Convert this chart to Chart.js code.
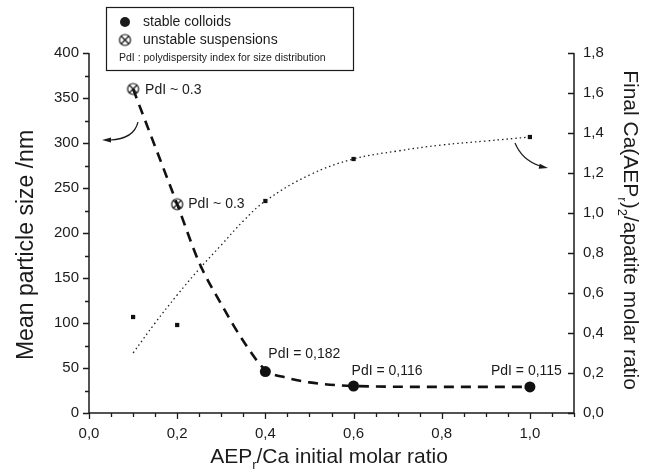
<!DOCTYPE html>
<html><head><meta charset="utf-8">
<script src="https://cdn.jsdelivr.net/npm/chart.js@4/dist/chart.umd.min.js"></script>
<style>html,body{margin:0;padding:0;background:#fff}</style>
</head><body>
<canvas id="c" width="647" height="473" style="width:647px;height:473px;display:block"></canvas>
<script>
// ---- data ----
const stableRatio = [0.4, 0.6, 1.0];
const stableSize = [46, 30, 29];
const stablePdI = ['PdI = 0,182', 'PdI = 0,116', 'PdI = 0,115'];
const unstableRatio = [0.1, 0.2];
const unstableSize = [360, 232];
const unstablePdI = ['PdI ~ 0.3', 'PdI ~ 0.3'];
const complexRatio = [0.1, 0.2, 0.4, 0.6, 1.0];
const complexValue = [0.48, 0.44, 1.06, 1.27, 1.38];
const sizeFitRatio = [0.1, 0.15, 0.2, 0.25, 0.3, 0.35, 0.4, 0.45, 0.5, 0.6, 0.8, 1.0];
const sizeFitValue = [360, 296, 232, 167, 121, 80, 48, 39, 34, 30, 29, 29];
const complexFitRatio = [0.1, 0.15, 0.2, 0.25, 0.3, 0.35, 0.4, 0.5, 0.6, 0.7, 0.8, 0.9, 1.0];
const complexFitValue = [0.30, 0.45, 0.59, 0.72, 0.84, 0.96, 1.06, 1.19, 1.27, 1.31, 1.34, 1.36, 1.38];
const legendItems = ['stable colloids', 'unstable suspensions'];
const legendNote = 'PdI : polydispersity index for size distribution';

const FONT = "'Liberation Sans', Arial, Helvetica, sans-serif";
const INK = '#1b1b1b';

const pts = (xs, ys) => xs.map((v, i) => ({x: v, y: ys[i]}));

// crossed circle marker
function crossedCircle(r) {
  const s = 2 * r + 4, c = document.createElement('canvas');
  c.width = s; c.height = s;
  const g = c.getContext('2d'), m = s / 2;
  g.strokeStyle = '#111'; g.lineWidth = 1.2;
  g.beginPath(); g.arc(m, m, r, 0, Math.PI * 2); g.stroke();
  const d = r * 0.72;
  g.beginPath(); g.moveTo(m - d, m - d); g.lineTo(m + d, m + d);
  g.moveTo(m + d, m - d); g.lineTo(m - d, m + d); g.stroke();
  return c;
}
const xMark = crossedCircle(5.5);

function richWidth(ctx, parts, size, subSize) {
  let w = 0;
  for (const p of parts) { ctx.font = (p.sub ? subSize : size) + 'px ' + FONT; w += ctx.measureText(p.t).width; }
  return w;
}
function drawRich(ctx, parts, cx, cy, size, subSize) {
  const w = richWidth(ctx, parts, size, subSize);
  let x = cx - w / 2;
  ctx.textBaseline = 'alphabetic'; ctx.textAlign = 'left';
  for (const p of parts) {
    ctx.font = (p.sub ? subSize : size) + 'px ' + FONT;
    ctx.fillText(p.t, x, cy + (p.sub ? size * 0.3 : 0));
    x += ctx.measureText(p.t).width;
  }
}
function arrowHead(ctx, x, y, ang, len, wid) {
  ctx.beginPath();
  ctx.moveTo(x, y);
  ctx.lineTo(x - len * Math.cos(ang) + wid * Math.sin(ang), y - len * Math.sin(ang) - wid * Math.cos(ang));
  ctx.lineTo(x - len * Math.cos(ang) - wid * Math.sin(ang), y - len * Math.sin(ang) + wid * Math.cos(ang));
  ctx.closePath(); ctx.fill();
}

const decor = {
  id: 'decor',
  afterDraw(chart) {
    const {ctx, chartArea: a, scales} = chart;
    const sx = scales.x, sl = scales.y, sr = scales.y2;
    ctx.save();
    ctx.strokeStyle = INK; ctx.fillStyle = INK; ctx.lineWidth = 1.5;
    // axis lines
    ctx.beginPath();
    ctx.moveTo(a.left, a.top); ctx.lineTo(a.left, a.bottom); ctx.lineTo(a.right, a.bottom);
    ctx.moveTo(a.right, a.top); ctx.lineTo(a.right, a.bottom);
    ctx.stroke();
    // ticks
    ctx.lineWidth = 1.3;
    ctx.beginPath();
    for (let i = 0; i <= 16; i++) {
      const y = Math.round(sl.getPixelForValue(i * 25)) + 0.5;
      const len = i % 2 === 0 ? 6 : 4;
      ctx.moveTo(a.left, y); ctx.lineTo(a.left - len, y);
    }
    for (let i = 0; i <= 22; i++) {
      const x = Math.round(sx.getPixelForValue(i * 0.05)) + 0.5;
      const len = i % 4 === 0 ? 6 : 4;
      ctx.moveTo(x, a.bottom); ctx.lineTo(x, a.bottom + len);
    }
    for (let i = 0; i <= 9; i++) {
      const y = Math.round(sr.getPixelForValue(i * 0.2)) + 0.5;
      ctx.moveTo(a.right, y); ctx.lineTo(a.right - 6, y);
    }
    ctx.stroke();

    // PdI annotations
    ctx.font = '14px ' + FONT; ctx.textBaseline = 'middle'; ctx.textAlign = 'left';
    const uOff = [[12, 1], [11, 0]];
    unstableRatio.forEach((r, i) => {
      ctx.fillText(unstablePdI[i], sx.getPixelForValue(r) + uOff[i][0], sl.getPixelForValue(unstableSize[i]) + uOff[i][1]);
    });
    const sOff = [[3, -17], [-2, -15], [-39, -16]];
    stableRatio.forEach((r, i) => {
      ctx.fillText(stablePdI[i], sx.getPixelForValue(r) + sOff[i][0], sl.getPixelForValue(stableSize[i]) + sOff[i][1]);
    });

    // curved arrows
    ctx.lineWidth = 1.2;
    ctx.beginPath(); ctx.moveTo(138, 122); ctx.quadraticCurveTo(134, 139, 110, 140); ctx.stroke();
    arrowHead(ctx, 102, 140, Math.PI, 9, 2.5);
    ctx.beginPath(); ctx.moveTo(515, 143); ctx.quadraticCurveTo(522, 160, 540, 166); ctx.stroke();
    arrowHead(ctx, 548, 168, 0.2, 9, 2.5);

    // legend box
    ctx.lineWidth = 1.2;
    ctx.strokeRect(106.5, 7.5, 247, 63);
    ctx.beginPath(); ctx.arc(125, 22, 5, 0, Math.PI * 2); ctx.fill();
    ctx.drawImage(xMark, 125 - xMark.width / 2, 40 - xMark.height / 2);
    ctx.font = '14px ' + FONT; ctx.textBaseline = 'middle';
    ctx.fillText(legendItems[0], 143, 22);
    ctx.fillText(legendItems[1], 143, 40);
    ctx.font = '10.5px ' + FONT;
    ctx.fillText(legendNote, 119, 58);

    // axis titles
    drawRich(ctx, [{t: 'AEP'}, {t: 'r', sub: 1}, {t: '/Ca initial molar ratio'}], 329, 463, 21, 13);
    ctx.save(); ctx.translate(33, 245); ctx.rotate(-Math.PI / 2);
    drawRich(ctx, [{t: 'Mean particle size /nm'}], 0, 0, 23, 14);
    ctx.restore();
    ctx.save(); ctx.translate(624, 230); ctx.rotate(Math.PI / 2);
    drawRich(ctx, [{t: 'Final Ca(AEP'}, {t: 'r', sub: 1}, {t: ')'}, {t: '2', sub: 1}, {t: '/apatite molar ratio'}], 0, 0, 21, 13);
    ctx.restore();
    ctx.restore();
  }
};

new Chart(document.getElementById('c'), {
  type: 'scatter',
  data: {
    datasets: [
      {label: 'size fit', data: pts(sizeFitRatio, sizeFitValue), yAxisID: 'y', showLine: true,
       borderColor: '#111', borderWidth: 2.6, borderDash: [10, 7], pointRadius: 0, cubicInterpolationMode: 'monotone', fill: false},
      {label: 'ratio fit', data: pts(complexFitRatio, complexFitValue), yAxisID: 'y2', showLine: true,
       borderColor: '#222', borderWidth: 1.3, borderDash: [1.5, 3], pointRadius: 0, tension: 0.4, fill: false},
      {label: 'Final Ca(AEPr)2/apatite', data: pts(complexRatio, complexValue), yAxisID: 'y2',
       pointStyle: 'rect', pointRadius: 3, backgroundColor: '#111', borderColor: '#111', borderWidth: 0},
      {label: 'unstable suspensions', data: pts(unstableRatio, unstableSize), yAxisID: 'y',
       pointStyle: xMark, pointRadius: 6},
      {label: 'stable colloids', data: pts(stableRatio, stableSize), yAxisID: 'y',
       pointStyle: 'circle', pointRadius: 5.5, backgroundColor: '#111', borderColor: '#111', borderWidth: 0}
    ]
  },
  options: {
    responsive: false, devicePixelRatio: 1, animation: false,
    layout: {padding: {top: 53, left: 0, right: 0, bottom: 0}},
    plugins: {legend: {display: false}, tooltip: {enabled: false}},
    scales: {
      x: {type: 'linear', min: 0, max: 1.1, position: 'bottom',
          grid: {display: false, drawTicks: false}, border: {display: false},
          ticks: {stepSize: 0.2, includeBounds: false, padding: 12, color: INK, font: {size: 15, family: FONT},
                  callback: v => Math.abs(v - 1.1) < 1e-6 ? '' : v.toFixed(1).replace('.', ',')},
          afterFit: s => { s.height = 60; }},
      y: {type: 'linear', min: 0, max: 400, position: 'left',
          grid: {display: false, drawTicks: false}, border: {display: false},
          ticks: {stepSize: 50, padding: 10, color: INK, font: {size: 15, family: FONT}},
          afterFit: s => { s.width = 89; }},
      y2: {type: 'linear', min: 0, max: 1.8, position: 'right',
          grid: {display: false, drawTicks: false}, border: {display: false},
          ticks: {stepSize: 0.2, padding: 9, color: INK, font: {size: 15, family: FONT},
                  callback: v => v.toFixed(1).replace('.', ',')},
          afterFit: s => { s.width = 73; }}
    }
  },
  plugins: [decor]
});
</script>
</body></html>
